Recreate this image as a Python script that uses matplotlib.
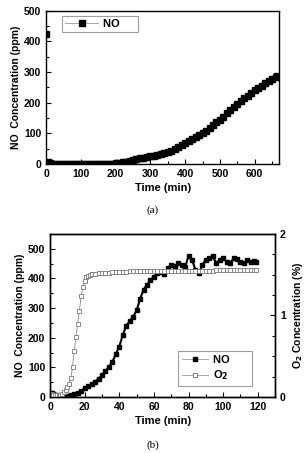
import matplotlib
matplotlib.use("Agg")
import matplotlib.pyplot as plt
from matplotlib.ticker import MultipleLocator

plt.rcParams['font.family'] = ['Liberation Sans', 'DejaVu Sans']
plt.rcParams['font.weight'] = 'bold'

# panel (a): long run, NO only
t_a = [0, 5, 10, 20, 30, 40, 50, 60, 70, 80, 90, 100, 110, 120, 130, 140, 150, 160, 170,
       180, 190, 200, 210, 220, 230, 240, 250, 260, 270, 280, 290, 300, 310, 320, 330,
       340, 350, 360, 370, 380, 390, 400, 410, 420, 430, 440, 450, 460, 470, 480, 490,
       500, 510, 520, 530, 540, 550, 560, 570, 580, 590, 600, 610, 620, 630, 640, 650,
       660, 665]
no_a = [425, 5, 2, 1, 0, 0, 0, 0, 0, 0, 0, 0, 0, 0, 0, 0, 0, 0, 0,
        1, 1, 2, 3, 5, 7, 10, 13, 16, 19, 21, 23, 25, 27, 29, 32,
        35, 38, 42, 48, 55, 62, 68, 75, 82, 89, 95, 100, 108, 117, 127, 137,
        145, 155, 165, 175, 185, 195, 205, 215, 223, 231, 240, 248, 256, 263, 270, 277,
        283, 286]

# panel (b): NO (ppm) and O2 (%)
t_no = [0, 1, 2, 3, 4, 5, 6, 8, 10, 12, 14, 16, 18, 20, 22, 24, 26, 28, 30, 32, 34, 36,
        38, 40, 42, 44, 46, 48, 50, 52, 54, 56, 58, 60, 62, 64, 66, 68, 70, 72, 74, 76,
        78, 80, 82, 84, 86, 88, 90, 92, 94, 96, 98, 100, 102, 104, 106, 108, 110, 112,
        114, 116, 118, 119]
no_b = [15, 12, 10, 8, 6, 5, 3, 2, 3, 6, 9, 14, 20, 29, 36, 44, 52, 62, 74, 88, 102, 118,
        145, 170, 209, 240, 256, 271, 292, 330, 362, 378, 395, 406, 417, 421, 415, 434,
        446, 442, 451, 446, 438, 476, 463, 429, 417, 446, 463, 468, 474, 451, 463, 468,
        457, 451, 468, 465, 457, 451, 463, 457, 460, 457]

t_o2 = [0, 1, 2, 3, 4, 5, 6, 7, 8, 9, 10, 11, 12, 13, 14, 15, 16, 17, 18, 19, 20, 21, 22,
        23, 24, 26, 28, 30, 32, 34, 36, 38, 40, 42, 44, 46, 48, 50, 52, 54, 56, 58, 60,
        62, 64, 66, 68, 70, 72, 74, 76, 78, 80, 82, 84, 86, 88, 90, 92, 94, 96, 98, 100,
        102, 104, 106, 108, 110, 112, 114, 116, 118, 119]
o2_b = [0.04, 0.04, 0.03, 0.03, 0.03, 0.03, 0.03, 0.04, 0.06, 0.09, 0.12, 0.16, 0.23,
        0.37, 0.57, 0.74, 0.9, 1.06, 1.24, 1.35, 1.42, 1.47, 1.49, 1.5, 1.51, 1.51, 1.52,
        1.52, 1.52, 1.52, 1.53, 1.53, 1.53, 1.53, 1.53, 1.54, 1.54, 1.54, 1.54, 1.54,
        1.54, 1.54, 1.55, 1.55, 1.55, 1.55, 1.55, 1.55, 1.55, 1.55, 1.55, 1.55, 1.55,
        1.55, 1.55, 1.55, 1.55, 1.55, 1.55, 1.55, 1.56, 1.56, 1.56, 1.56, 1.56, 1.56,
        1.56, 1.56, 1.56, 1.56, 1.56, 1.56, 1.56]

fig = plt.figure(figsize=(3.05, 4.53), dpi=100)
fs = 7.5


def style(ax):
    ax.tick_params(which='both', direction='in', labelsize=fs, width=0.8)
    ax.tick_params(which='major', length=3.5)
    ax.tick_params(which='minor', length=2)
    for s in ax.spines.values():
        s.set_linewidth(1.0)


# --- (a)
ax1 = fig.add_axes([0.151, 0.638, 0.764, 0.338])
# first reading stands alone (no joining line), rest drawn as a dense band
ax1.plot(t_a[:1], no_a[:1], ls='none', marker='s', ms=3.8, mfc='black', mec='black')
ax1.plot(t_a[1:], no_a[1:], color='black', lw=2.5, marker='s', ms=3.8, mfc='black',
         mec='black')
# legend proxy with thin grey line
h_a, = ax1.plot([], [], color='#999999', lw=0.6, marker='s', ms=3.8, mfc='black',
                mec='black', label='NO     ')
ax1.set_xlim(0, 670)
ax1.set_ylim(0, 500)
ax1.xaxis.set_major_locator(MultipleLocator(100))
ax1.xaxis.set_minor_locator(MultipleLocator(50))
ax1.yaxis.set_major_locator(MultipleLocator(100))
ax1.yaxis.set_minor_locator(MultipleLocator(50))
style(ax1)
ax1.set_xlabel('Time (min)', fontsize=fs + 0.5, fontweight='bold', labelpad=3)
ax1.set_ylabel('NO  Concentration (ppm)', fontsize=fs, fontweight='bold', labelpad=2)
leg = ax1.legend(handles=[h_a], loc='upper left', bbox_to_anchor=(0.07, 0.965),
                 fontsize=fs + 0.5, frameon=True, fancybox=False, edgecolor='#888888',
                 handlelength=3.0, borderpad=0.25, handletextpad=0.4,
                 borderaxespad=0.0)
leg.get_frame().set_linewidth(0.8)
for txt in leg.get_texts():
    txt.set_fontweight('bold')
fig.text(0.5, 0.535, '(a)', family='Liberation Serif', fontweight='normal', fontsize=8,
         ha='center', va='center')

# --- (b)
ax2 = fig.add_axes([0.164, 0.1236, 0.738, 0.360])
ax3 = ax2.twinx()
l1, = ax2.plot(t_no, no_b, color='black', lw=1.5, marker='s', ms=3.2, mfc='black',
               mec='black')
l2, = ax3.plot(t_o2, o2_b, color='#888888', lw=0.6, marker='s', ms=3.0, mfc='white',
               mec='#777777', mew=0.6)
p1, = ax2.plot([], [], color='#999999', lw=0.6, marker='s', ms=3.2, mfc='black',
               mec='black')
p2, = ax2.plot([], [], color='#999999', lw=0.6, marker='s', ms=3.2, mfc='white',
               mec='#666666', mew=0.6)
ax2.set_xlim(0, 130)
ax2.set_ylim(0, 550)
ax3.set_ylim(0, 2)
ax2.xaxis.set_major_locator(MultipleLocator(20))
ax2.xaxis.set_minor_locator(MultipleLocator(10))
ax2.yaxis.set_major_locator(MultipleLocator(100))
ax2.yaxis.set_minor_locator(MultipleLocator(50))
ax3.yaxis.set_major_locator(MultipleLocator(1))
ax3.yaxis.set_minor_locator(MultipleLocator(0.25))
style(ax2)
style(ax3)
ax2.set_xlabel('Time (min)', fontsize=fs + 0.5, fontweight='bold', labelpad=3)
ax2.set_ylabel('NO  Concentration (ppm)', fontsize=fs, fontweight='bold', labelpad=2)
ax3.set_ylabel('O$_2$ Concentration (%)', fontsize=fs, fontweight='bold', labelpad=4)
leg2 = ax2.legend([p1, p2], ['NO      ', 'O$_2$      '], loc='lower right',
                  bbox_to_anchor=(0.898, 0.067), fontsize=fs + 0.5, frameon=True,
                  fancybox=False, edgecolor='#888888', handlelength=2.4,
                  borderpad=0.35, handletextpad=0.4, labelspacing=0.3,
                  borderaxespad=0.0)
leg2.get_frame().set_linewidth(0.8)
for txt in leg2.get_texts():
    txt.set_fontweight('bold')
fig.text(0.5, 0.018, '(b)', family='Liberation Serif', fontweight='normal', fontsize=8,
         ha='center', va='center')

for ax in (ax1, ax2, ax3):
    for lab in ax.get_xticklabels() + ax.get_yticklabels():
        lab.set_fontweight('bold')

fig.savefig('out.png', dpi=100)
